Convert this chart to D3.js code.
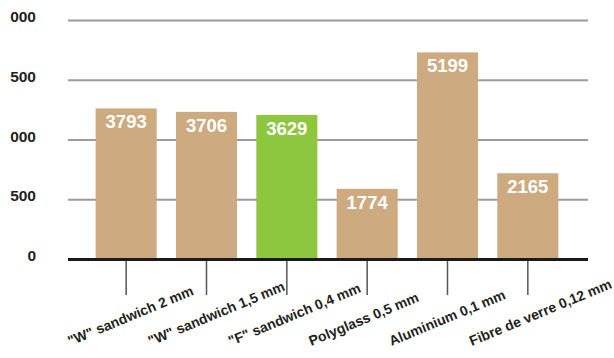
<!DOCTYPE html>
<html>
<head>
<meta charset="utf-8">
<script src="https://cdn.jsdelivr.net/npm/d3@7/dist/d3.min.js"></script>
<style>
  html, body { margin: 0; padding: 0; background: #ffffff; }
  svg { display: block; }
  text { font-family: "Liberation Sans", Arial, sans-serif; font-weight: bold; }
</style>
</head>
<body>
<svg id="chart" width="614" height="358"></svg>
<script>
// Materials compared
const categories = [
  "\"W\" sandwich 2 mm",
  "\"W\" sandwich 1,5 mm",
  "\"F\" sandwich 0,4 mm",
  "Polyglass 0,5 mm",
  "Aluminium 0,1 mm",
  "Fibre de verre 0,12 mm"
];
// Measured values
const values = [3793, 3706, 3629, 1774, 5199, 2165];
// Highlighted material
const highlighted = ["\"F\" sandwich 0,4 mm"];
// Value axis ticks and their printed labels
const yTickValues = [0, 1500, 3000, 4500, 6000];
const yTickLabels = ["0", "500", "000", "500", "000"];

const svg = d3.select("#chart");

const x = d3.scaleBand()
  .domain(categories)
  .range([86, 568])
  .paddingInner(0.24)
  .paddingOuter(0.12);

const y = d3.scaleLinear()
  .domain([0, 6000])
  .range([259.5, 20.5]);

const gridLeft = 68, gridRight = 588;

// Horizontal grid lines
svg.append("g")
  .selectAll("line")
  .data(yTickValues.filter(d => d > 0))
  .join("line")
  .attr("x1", gridLeft)
  .attr("x2", gridRight)
  .attr("y1", d => y(d))
  .attr("y2", d => y(d))
  .attr("stroke", "#9b9b9b")
  .attr("stroke-width", 2);

// Value axis labels
svg.append("g")
  .selectAll("text")
  .data(yTickValues)
  .join("text")
  .attr("x", 36)
  .attr("y", d => y(d) + 1.5)
  .attr("text-anchor", "end")
  .attr("font-size", "15.5px")
  .attr("fill", "#231f20")
  .text((d, i) => yTickLabels[i]);

// Bars
const cats = categories.map((c, i) => ({ c, v: values[i] }));

svg.append("g")
  .selectAll("rect")
  .data(cats)
  .join("rect")
  .attr("x", d => x(d.c))
  .attr("width", x.bandwidth())
  .attr("y", d => y(d.v))
  .attr("height", d => y(0) - y(d.v))
  .attr("fill", d => highlighted.includes(d.c) ? "#8dc63f" : "#cdaa7f");

// Value labels inside the bars
svg.append("g")
  .selectAll("text")
  .data(cats)
  .join("text")
  .attr("x", d => x(d.c) + x.bandwidth() / 2)
  .attr("y", d => y(d.v) + 20)
  .attr("text-anchor", "middle")
  .attr("font-size", "18.5px")
  .attr("fill", "#ffffff")
  .text(d => d.v);

// Category tick marks below the baseline
svg.append("g")
  .selectAll("line")
  .data(categories)
  .join("line")
  .attr("x1", d => x(d) + x.bandwidth() / 2)
  .attr("x2", d => x(d) + x.bandwidth() / 2)
  .attr("y1", y(0))
  .attr("y2", 295)
  .attr("stroke", "#555555")
  .attr("stroke-width", 1.5);

// Baseline
svg.append("line")
  .attr("x1", gridLeft)
  .attr("x2", gridRight)
  .attr("y1", y(0))
  .attr("y2", y(0))
  .attr("stroke", "#1a1a1a")
  .attr("stroke-width", 3);

// Rotated category labels
svg.append("g")
  .selectAll("text")
  .data(categories)
  .join("text")
  .attr("transform", d => {
    const cx = x(d) + x.bandwidth() / 2 - 56;
    return `translate(${cx},346) rotate(-22.5)`;
  })
  .attr("text-anchor", "start")
  .attr("font-size", "14px")
  .attr("fill", "#231f20")
  .text(d => d);
</script>
</body>
</html>
